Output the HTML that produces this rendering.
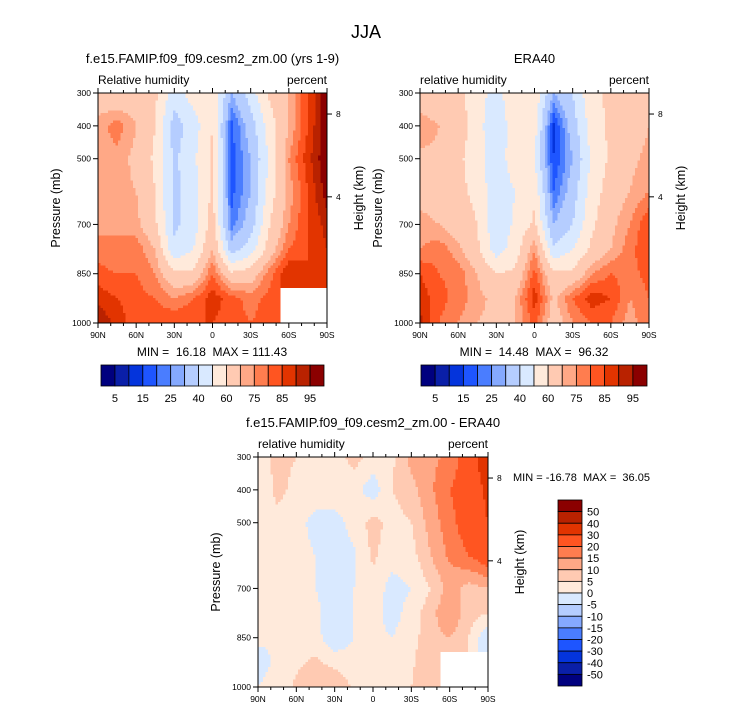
<!DOCTYPE html>
<html><head><meta charset="utf-8">
<style>
body{margin:0;background:#fff;font-family:"Liberation Sans",sans-serif;}
svg text{font-family:"Liberation Sans",sans-serif;fill:#000;white-space:pre;}
</style></head>
<body>
<svg id="fig" width="733" height="712" viewBox="0 0 733 712">
<text x="366" y="38" font-size="18" text-anchor="middle">JJA</text>
</svg>
<script>
// ---- data ----
const pressures=[300,400,500,600,700,775,850,925,1000];
const lats=[90,75,60,45,30,15,0,-15,-30,-45,-60,-75,-90];
const rhLevels=[5,10,15,20,25,30,40,50,60,70,75,80,85,90,95];
const rhColors=["#00007f","#0a1fa8","#0434dc","#1e55ff","#4a7dff","#85a9ff","#b5cdff","#d9e9ff","#ffeadb","#ffcab2","#ffa886","#ff7d4f","#ff5521","#e23400","#b92200","#8b0000"];
const diffLevels=[-50,-40,-30,-20,-15,-10,-5,0,5,10,15,20,30,40,50];
const diffLabels=["50","40","30","20","15","10","5","0","-5","-10","-15","-20","-30","-40","-50"];
const rhLabels=["5","15","25","40","60","75","85","95"];
const latLabels=["90N","60N","30N","0","30S","60S","90S"];
const pLabels=[300,400,500,700,850,1000];
const model=[
[65,62,65,62,45,55,58,30,45,62,70,85,100],
[72,78,70,60,35,45,60,18,35,55,70,85,100],
[72,73,68,58,38,48,62,18,30,52,75,88,100],
[70,72,70,60,37,45,62,18,30,55,72,85,98],
[73,75,72,62,38,45,65,22,35,60,75,85,92],
[78,75,78,70,42,50,70,35,45,65,80,85,90],
[82,80,80,75,62,62,80,62,65,78,90,85,88],
[88,85,82,80,75,80,88,82,78,82,null,null,null],
[95,88,82,84,85,85,85,82,80,82,null,null,null]];
const era=[
[62,60,62,55,45,60,58,30,40,58,62,65,70],
[75,70,65,55,40,58,55,14,35,55,62,65,70],
[68,68,62,55,42,58,50,15,30,52,62,68,72],
[68,65,62,58,42,50,58,20,35,55,65,70,75],
[72,70,65,60,42,52,62,30,40,58,68,75,85],
[75,78,72,62,45,55,75,42,50,62,70,78,85],
[85,80,78,70,60,62,82,62,62,75,80,78,82],
[88,82,78,72,68,70,88,68,80,88,85,75,80],
[92,80,75,70,68,70,82,65,75,80,80,72,80]];
const diff=[
[3,6,5,3,2,7,3,4,12,14,16,24,38],
[2,6,4,3,3,2,-3,5,8,14,20,24,32],
[3,4,2,-2,-2,2,7,3,5,12,18,24,30],
[2,3,2,0,-3,-1,6,2,3,10,16,20,25],
[1,2,4,0,-4,0,3,-2,0,5,12,8,10],
[2,0,5,2,-5,0,2,-2,2,8,15,7,5],
[1,0,3,2,-4,0,1,0,3,8,10,5,-5],
[-2,1,4,6,3,2,3,1,4,10,null,null,null],
[0,2,6,10,10,4,3,3,5,8,null,null,null]];

const NS="http://www.w3.org/2000/svg";
const fig=document.getElementById('fig');
function mk(tag,attrs,parent){const e=document.createElementNS(NS,tag);for(const k in attrs)e.setAttribute(k,attrs[k]);(parent||fig).appendChild(e);return e;}
function txt(x,y,s,size,anchor,parent,rot){const t=mk('text',{x:x,y:y,'font-size':size,'text-anchor':anchor||'start'},parent);if(rot)t.setAttribute('transform',`rotate(-90 ${x} ${y})`);t.textContent=s;return t;}
function binIdx(v,levels){let i=0;while(i<levels.length&&v>=levels[i])i++;return i;}
function sample(grid,lat,p){
  let ci=(90-lat)/15; let c0=Math.min(Math.floor(ci),lats.length-2); let fc=ci-c0;
  let r0=0; while(r0<pressures.length-2&&p>pressures[r0+1])r0++;
  let fr=(p-pressures[r0])/(pressures[r0+1]-pressures[r0]);
  const nr=fr<0.6?r0:r0+1, nc=fc<0.5?c0:c0+1;
  if(grid[nr][nc]===null)return null;
  const g=(r,c)=>{const v=grid[r][c];return v===null?grid[nr][nc]:v;};
  return (1-fr)*((1-fc)*g(r0,c0)+fc*g(r0,c0+1))+fr*((1-fc)*g(r0+1,c0)+fc*g(r0+1,c0+1));
}
function panel(cfg){
  const {x0,y0,w,h,grid,levels,colors,name}=cfg;
  const g=mk('g',{});
  
  
  const xs=lat=>x0+(90-lat)/180*w;
  const ys=p=>y0+(p-300)/700*h;
  const step=2.5;
  for(let py=0;py<h;py+=step){
    for(let px=0;px<w;px+=step){
      const lat=90-(px+step/2)/w*180, p=300+(py+step/2)/h*700;
      const v=sample(grid,lat,p);
      const r=mk('rect',{x:x0+px,y:y0+py,width:Math.min(step,w-px)+0.3,height:Math.min(step,h-py)+0.3,fill:v===null?'#fff':colors[binIdx(v,levels)]},g);
      
      
    }
  }
  const ax=mk('g',{stroke:'#000','stroke-width':1,fill:'none'},g);
  
  
  mk('rect',{x:x0,y:y0,width:w,height:h},ax);
  for(let lat=90;lat>=-90;lat-=10){const x=xs(lat);const L=(lat%30===0)?5:3;mk('line',{x1:x,y1:y0+h,x2:x,y2:y0+h+L},ax);mk('line',{x1:x,y1:y0,x2:x,y2:y0-L},ax);}
  latLabels.forEach((s,i)=>{const t=txt(xs(90-30*i),y0+h+15,s,8.5,'middle',g);});
  pLabels.forEach(p=>{mk('line',{x1:x0-5,y1:ys(p),x2:x0,y2:ys(p)},ax);const t=txt(x0-7,ys(p)+3,String(p),8.5,'end',g);});
  [[8,ys(364)],[4,ys(616)]].forEach(([km,y])=>{mk('line',{x1:x0+w,y1:y,x2:x0+w+5,y2:y},ax);const t=txt(x0+w+9,y+3,String(km),8.5,'start',g);});
  let t=txt(x0-38,y0+h/2,'Pressure (mb)',12.5,'middle',g,true);
  t=txt(x0+w+36,y0+h/2-10,'Height (km)',12.5,'middle',g,true);
  t=txt(x0,y0-9,cfg.sub,12,'start',g);
  t=txt(x0+w,y0-9,'percent',12,'end',g);
  t=txt(x0+w/2,y0-30,cfg.title,13,'middle',g);
}
function hbar(x0,y0,w,h,name){
  const g=mk('g',{});
  
  
  const bw=w/rhColors.length;
  rhColors.forEach((c,i)=>{const r=mk('rect',{x:x0+i*bw,y:y0,width:bw,height:h,fill:c,stroke:'#000','stroke-width':0.8},g);});
  rhLabels.forEach((s,i)=>{const t=txt(x0+(2*i+1)*bw,y0+h+16,s,11,'middle',g);});
}
panel({x0:98,y0:93,w:229,h:230,grid:model,levels:rhLevels,colors:rhColors,name:'model-panel',title:'f.e15.FAMIP.f09_f09.cesm2_zm.00 (yrs 1-9)',sub:'Relative humidity'});
panel({x0:420,y0:93,w:229,h:230,grid:era,levels:rhLevels,colors:rhColors,name:'era40-panel',title:'ERA40',sub:'relative humidity'});
panel({x0:258,y0:457,w:230,h:230,grid:diff,levels:diffLevels,colors:rhColors,name:'difference-panel',title:'f.e15.FAMIP.f09_f09.cesm2_zm.00 - ERA40',sub:'relative humidity'});
let m=txt(212,356,'MIN =  16.18  MAX = 111.43',12,'middle');
m=txt(534,356,'MIN =  14.48  MAX =  96.32',12,'middle');
m=txt(513,481,'MIN = -16.78  MAX =  36.05',11,'start');
hbar(101,365,223,21,'model-colorbar');
hbar(421,365,226,21,'era-colorbar');
(function(){
  const g=mk('g',{});
  
  
  const x0=558,y0=500,w=24,h=186,bh=h/rhColors.length;
  for(let i=0;i<rhColors.length;i++){const r=mk('rect',{x:x0,y:y0+i*bh,width:w,height:bh,fill:rhColors[rhColors.length-1-i],stroke:'#000','stroke-width':0.8},g);}
  diffLabels.forEach((s,i)=>{const t=txt(x0+w+5,y0+(i+1)*bh+4,s,11,'start',g);});
})();
</script>
</body></html>
